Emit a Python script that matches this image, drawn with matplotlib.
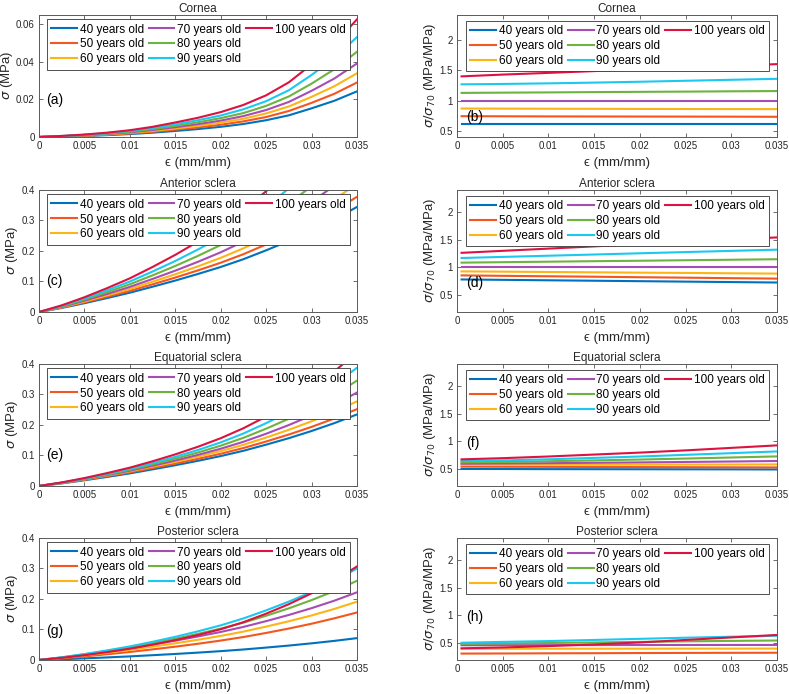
import matplotlib.pyplot as plt
from matplotlib.lines import Line2D
from matplotlib.ticker import FuncFormatter

plt.rcParams['font.family'] = ['Liberation Sans', 'DejaVu Sans']

ages = ['40 years old', '50 years old', '60 years old', '70 years old',
        '80 years old', '90 years old', '100 years old']
colors = ['#0072BD', '#F4561D', '#FDB515', '#A64DB5', '#6CB33F', '#1DC8F0', '#DC1340']

# strain points for the stress curves (left column)
strain = [0, 0.0025, 0.005, 0.0075, 0.01, 0.0125, 0.015, 0.0175,
          0.02, 0.0225, 0.025, 0.0275, 0.03, 0.0325, 0.035]
# strain points for the normalised curves (right column)
strain_ratio = [0.0005, 0.005, 0.01, 0.015, 0.02, 0.025, 0.03, 0.035]

cornea_stress = [
    [0, 0.00025, 0.00056, 0.00099, 0.00155, 0.0023, 0.0032, 0.0042, 0.0054, 0.0069, 0.0089, 0.0115, 0.0152, 0.0192, 0.0242],
    [0, 0.0003, 0.00067, 0.0012, 0.00186, 0.00276, 0.0039, 0.0051, 0.0065, 0.0083, 0.0106, 0.0138, 0.0181, 0.0229, 0.0289],
    [0, 0.00035, 0.00078, 0.0014, 0.0022, 0.0032, 0.0045, 0.0059, 0.0076, 0.0097, 0.0125, 0.0162, 0.0213, 0.0269, 0.0338],
    [0, 0.0004, 0.0009, 0.0016, 0.0025, 0.0037, 0.0052, 0.0068, 0.0087, 0.0111, 0.0143, 0.0186, 0.0245, 0.0310, 0.039],
    [0, 0.00045, 0.00102, 0.00182, 0.00285, 0.0042, 0.0059, 0.0078, 0.0100, 0.0127, 0.0165, 0.0215, 0.0283, 0.0359, 0.0452],
    [0, 0.00051, 0.00115, 0.00205, 0.0032, 0.0048, 0.0067, 0.0089, 0.0114, 0.0147, 0.0190, 0.0248, 0.0329, 0.0419, 0.0530],
    [0, 0.00057, 0.00129, 0.0023, 0.0036, 0.0054, 0.0077, 0.0102, 0.0132, 0.0170, 0.0221, 0.0290, 0.0385, 0.0492, 0.0624],
]
cornea_ratio = [
    [0.62, 0.62, 0.62, 0.62, 0.62, 0.62, 0.62, 0.62],
    [0.75, 0.748, 0.746, 0.745, 0.744, 0.743, 0.742, 0.74],
    [0.875, 0.873, 0.871, 0.87, 0.868, 0.867, 0.866, 0.865],
    [1, 1, 1, 1, 1, 1, 1, 1],
    [1.13, 1.134, 1.138, 1.143, 1.147, 1.151, 1.156, 1.16],
    [1.27, 1.276, 1.286, 1.298, 1.312, 1.328, 1.344, 1.36],
    [1.40, 1.429, 1.457, 1.486, 1.514, 1.543, 1.571, 1.60],
]

anterior_stress = [
    [0, 0.0133, 0.0288, 0.0456, 0.0631, 0.0826, 0.1027, 0.1243, 0.147, 0.1725, 0.2014, 0.2322, 0.2657, 0.3024, 0.343],
    [0, 0.0145, 0.0315, 0.0499, 0.069, 0.0904, 0.1125, 0.136, 0.1609, 0.1888, 0.2206, 0.2542, 0.2909, 0.3312, 0.376],
    [0, 0.0158, 0.0342, 0.0544, 0.0753, 0.0989, 0.1233, 0.1492, 0.1769, 0.208, 0.2434, 0.2813, 0.3224, 0.3679, 0.4183],
    [0, 0.017, 0.037, 0.059, 0.082, 0.108, 0.135, 0.164, 0.195, 0.230, 0.270, 0.313, 0.360, 0.412, 0.470],
    [0, 0.0186, 0.0405, 0.0649, 0.0906, 0.1197, 0.1503, 0.1833, 0.2188, 0.259, 0.3053, 0.3553, 0.4101, 0.4713, 0.5396],
    [0, 0.0201, 0.0441, 0.0709, 0.0995, 0.1322, 0.1666, 0.2042, 0.2449, 0.2912, 0.3448, 0.4031, 0.4676, 0.5393, 0.6204],
    [0, 0.0218, 0.0482, 0.078, 0.1100, 0.1471, 0.1866, 0.2299, 0.2771, 0.3314, 0.3945, 0.4636, 0.5404, 0.6262, 0.7238],
]
anterior_ratio = [
    [0.785, 0.778, 0.770, 0.762, 0.754, 0.746, 0.738, 0.730],
    [0.858, 0.850, 0.842, 0.834, 0.825, 0.817, 0.808, 0.800],
    [0.930, 0.925, 0.919, 0.913, 0.907, 0.902, 0.896, 0.890],
    [1, 1, 1, 1, 1, 1, 1, 1],
    [1.087, 1.095, 1.104, 1.113, 1.121, 1.130, 1.139, 1.148],
    [1.170, 1.190, 1.211, 1.233, 1.255, 1.277, 1.298, 1.320],
    [1.263, 1.299, 1.339, 1.379, 1.420, 1.460, 1.500, 1.540],
]

equatorial_stress = [
    [0, 0.0086, 0.0187, 0.0297, 0.0412, 0.0543, 0.0678, 0.0823, 0.0977, 0.115, 0.135, 0.1562, 0.1796, 0.2052, 0.2336],
    [0, 0.0093, 0.0202, 0.0322, 0.0446, 0.0586, 0.0732, 0.0887, 0.1053, 0.124, 0.1453, 0.1681, 0.193, 0.2204, 0.251],
    [0, 0.0099, 0.0216, 0.0345, 0.0479, 0.0631, 0.0789, 0.0959, 0.1141, 0.1346, 0.1582, 0.1836, 0.2113, 0.2422, 0.2764],
    [0, 0.0103, 0.0224, 0.0358, 0.05, 0.0662, 0.0833, 0.1017, 0.1217, 0.1444, 0.1706, 0.1991, 0.2304, 0.2657, 0.305],
    [0, 0.0107, 0.0234, 0.0376, 0.0529, 0.0704, 0.0891, 0.1094, 0.1316, 0.1573, 0.1871, 0.2197, 0.2563, 0.2975, 0.344],
    [0, 0.0111, 0.0244, 0.0395, 0.0558, 0.0747, 0.0952, 0.1176, 0.1424, 0.1714, 0.2052, 0.2426, 0.2844, 0.3317, 0.3859],
    [0, 0.0117, 0.0259, 0.0422, 0.0599, 0.0807, 0.1033, 0.1282, 0.156, 0.1886, 0.2268, 0.2698, 0.3186, 0.3737, 0.4371],
]
equatorial_ratio = [
    [0.506, 0.505, 0.503, 0.502, 0.501, 0.500, 0.499, 0.497],
    [0.548, 0.546, 0.544, 0.542, 0.540, 0.538, 0.536, 0.534],
    [0.583, 0.583, 0.584, 0.584, 0.585, 0.586, 0.587, 0.588],
    [0.601, 0.605, 0.610, 0.617, 0.624, 0.632, 0.640, 0.649],
    [0.625, 0.632, 0.645, 0.660, 0.675, 0.693, 0.712, 0.732],
    [0.649, 0.660, 0.680, 0.705, 0.730, 0.760, 0.790, 0.821],
    [0.679, 0.700, 0.730, 0.765, 0.800, 0.840, 0.885, 0.930],
]

posterior_stress = [
    [0, 0.0024, 0.0053, 0.0084, 0.0118, 0.0157, 0.0197, 0.0241, 0.0289, 0.0343, 0.0405, 0.0471, 0.0544, 0.0624, 0.0714],
    [0, 0.0054, 0.0117, 0.0188, 0.0262, 0.0347, 0.0435, 0.053, 0.0634, 0.075, 0.0883, 0.1027, 0.1184, 0.136, 0.1551],
    [0, 0.0068, 0.0148, 0.0236, 0.033, 0.0435, 0.0544, 0.0661, 0.0786, 0.0927, 0.1090, 0.1265, 0.1454, 0.1666, 0.1904],
    [0, 0.0079, 0.0172, 0.0275, 0.0383, 0.0505, 0.0632, 0.0768, 0.0915, 0.108, 0.1269, 0.1471, 0.1692, 0.1936, 0.2209],
    [0, 0.0084, 0.0184, 0.0296, 0.0414, 0.0551, 0.0695, 0.0853, 0.1024, 0.1219, 0.1445, 0.1687, 0.1955, 0.225, 0.2585],
    [0, 0.0088, 0.0194, 0.0314, 0.0443, 0.0594, 0.0756, 0.0935, 0.1131, 0.1357, 0.162, 0.1906, 0.2225, 0.2579, 0.2985],
    [0, 0.0071, 0.0157, 0.0258, 0.0369, 0.0502, 0.0648, 0.0815, 0.1004, 0.1235, 0.1512, 0.1822, 0.2178, 0.2583, 0.3055],
]
posterior_ratio = [
    [0.140, 0.142, 0.144, 0.146, 0.148, 0.150, 0.151, 0.152],
    [0.315, 0.317, 0.320, 0.322, 0.325, 0.327, 0.329, 0.330],
    [0.400, 0.401, 0.402, 0.403, 0.403, 0.404, 0.404, 0.405],
    [0.465, 0.466, 0.467, 0.468, 0.469, 0.470, 0.470, 0.470],
    [0.490, 0.497, 0.505, 0.515, 0.525, 0.535, 0.543, 0.550],
    [0.510, 0.525, 0.540, 0.560, 0.580, 0.600, 0.618, 0.635],
    [0.410, 0.425, 0.450, 0.480, 0.515, 0.560, 0.605, 0.650],
]

titles = ['Cornea', 'Anterior sclera', 'Equatorial sclera', 'Posterior sclera']
stress_sets = [cornea_stress, anterior_stress, equatorial_stress, posterior_stress]
ratio_sets = [cornea_ratio, anterior_ratio, equatorial_ratio, posterior_ratio]
stress_ylim = [(0, 0.065), (0, 0.4), (0, 0.4), (0, 0.4)]
stress_yticks = [[0, 0.02, 0.04, 0.06], [0, 0.1, 0.2, 0.3, 0.4],
                 [0, 0.1, 0.2, 0.3, 0.4], [0, 0.1, 0.2, 0.3, 0.4]]
ratio_ylim = [(0.41, 2.41), (0.2, 2.4), (0.2, 2.4), (0.2, 2.4)]
ratio_yticks = [0.5, 1, 1.5, 2]
xticks = [0, 0.005, 0.01, 0.015, 0.02, 0.025, 0.03, 0.035]
left_tags = ['(a)', '(c)', '(e)', '(g)']
right_tags = ['(b)', '(d)', '(f)', '(h)']
left_tag_y = [0.30, 0.25, 0.25, 0.24]
right_tag_y = [0.16, 0.24, 0.35, 0.35]

fmt = FuncFormatter(lambda v, p: '%g' % v)
row_bottoms = [0.8026, 0.5504, 0.2997, 0.0490]
h = 0.1765


def style_axes(ax, ylim, yticks):
    ax.set_xlim(0, 0.035)
    ax.set_ylim(*ylim)
    ax.set_xticks(xticks)
    ax.set_yticks(yticks)
    ax.xaxis.set_major_formatter(fmt)
    ax.yaxis.set_major_formatter(fmt)
    ax.tick_params(direction='in', top=True, right=True, length=3, width=0.6,
                   labelsize=7, color='#555555', labelcolor='#262626', pad=3)
    for s in ax.spines.values():
        s.set_color('#5a5a5a')
        s.set_linewidth(0.7)
    ax.set_xlabel('\u03f5 (mm/mm)', fontsize=9.5, labelpad=4, color='#262626')


def add_legend(ax, lines, anchor):
    blank = Line2D([], [], color='none')
    leg = ax.legend(lines + [blank, blank], ages + ['', ''], ncol=3,
                    loc='upper left', bbox_to_anchor=anchor, borderaxespad=0,
                    fontsize=8.5, handlelength=2.2, handletextpad=0.25,
                    columnspacing=0.4, labelspacing=0.25, borderpad=0.35,
                    fancybox=False, framealpha=1)
    leg.get_frame().set_edgecolor('#333333')
    leg.get_frame().set_linewidth(0.6)


fig = plt.figure(figsize=(7.89, 6.94), dpi=100)

for r in range(4):
    ax = fig.add_axes([0.0494, row_bottoms[r], 0.4030, h])
    lines = []
    for k in range(7):
        ln, = ax.plot(strain, stress_sets[r][k], color=colors[k], lw=1.5)
        lines.append(ln)
    style_axes(ax, stress_ylim[r], stress_yticks[r])
    ax.set_ylabel(r'$\sigma$ (MPa)', fontsize=9.5, labelpad=1, color='#262626')
    ax.set_title(titles[r], fontsize=8.5, pad=2, color='#262626')
    add_legend(ax, lines, (0.024, 0.96))
    ax.text(0.024, left_tag_y[r], left_tags[r], transform=ax.transAxes,
            fontsize=10, va='center', ha='left')

    ax2 = fig.add_axes([0.5792, row_bottoms[r], 0.4056, h])
    lines = []
    for k in range(7):
        ln, = ax2.plot(strain_ratio, ratio_sets[r][k], color=colors[k], lw=1.5)
        lines.append(ln)
    style_axes(ax2, ratio_ylim[r], ratio_yticks)
    ax2.set_ylabel(r'$\sigma/\sigma_{70}$ (MPa/MPa)', fontsize=9.5, labelpad=1, color='#262626')
    ax2.set_title(titles[r], fontsize=8.5, pad=2, color='#262626')
    add_legend(ax2, lines, (0.027, 0.95))
    ax2.text(0.029, right_tag_y[r], right_tags[r], transform=ax2.transAxes,
             fontsize=10, va='center', ha='left')

fig.savefig('out.png', dpi=100)
plt.close(fig)
